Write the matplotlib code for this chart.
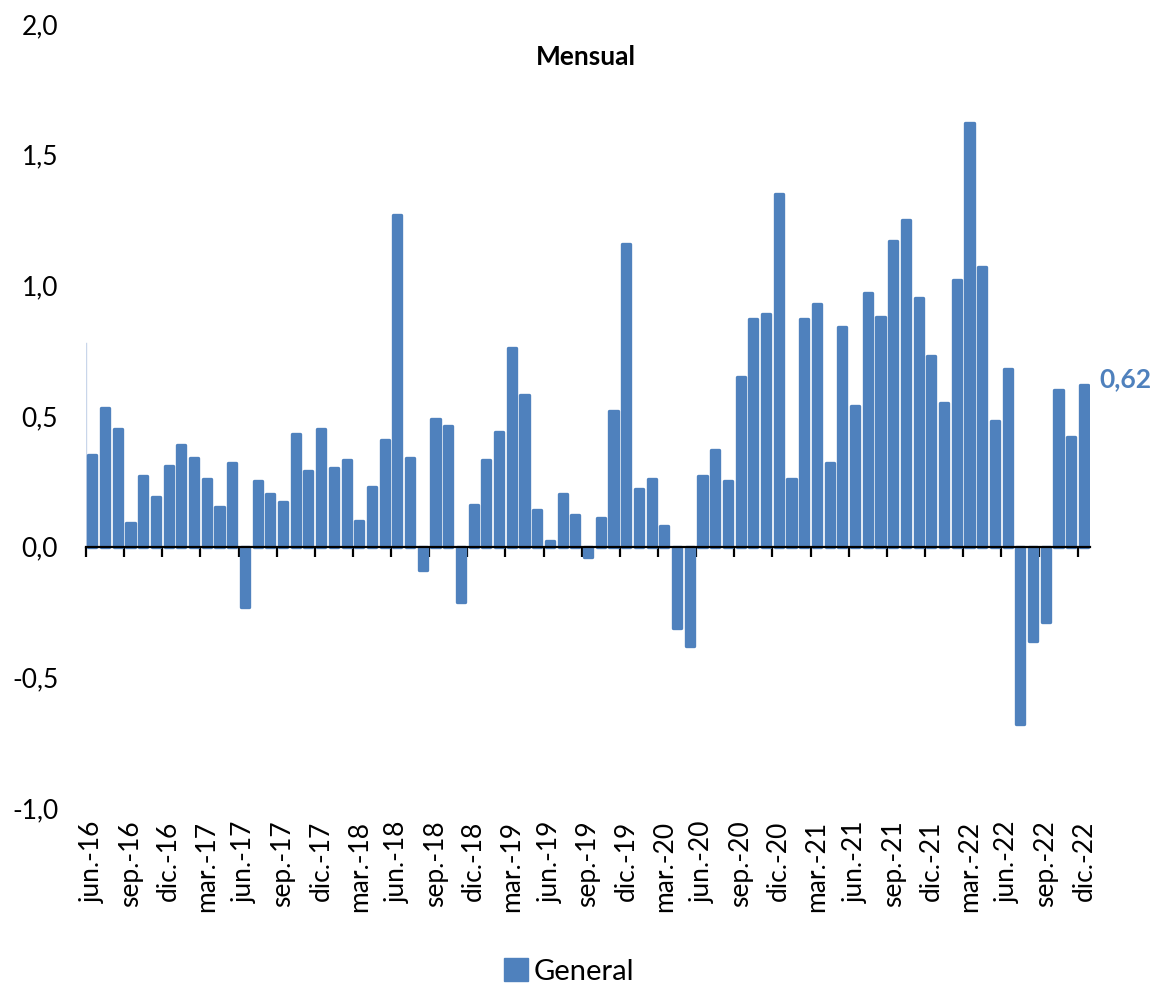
import numpy as np
from matplotlib import pyplot as plt
from matplotlib.patches import Patch

plt.rcParams['font.family'] = ['Lato', 'DejaVu Sans']

# monthly rate, jun-16 .. dic-22
months = ['jun.-16', 'jul.-16', 'ago.-16', 'sep.-16', 'oct.-16', 'nov.-16', 'dic.-16',
          'ene.-17', 'feb.-17', 'mar.-17', 'abr.-17', 'may.-17', 'jun.-17', 'jul.-17',
          'ago.-17', 'sep.-17', 'oct.-17', 'nov.-17', 'dic.-17', 'ene.-18', 'feb.-18',
          'mar.-18', 'abr.-18', 'may.-18', 'jun.-18', 'jul.-18', 'ago.-18', 'sep.-18',
          'oct.-18', 'nov.-18', 'dic.-18', 'ene.-19', 'feb.-19', 'mar.-19', 'abr.-19',
          'may.-19', 'jun.-19', 'jul.-19', 'ago.-19', 'sep.-19', 'oct.-19', 'nov.-19',
          'dic.-19', 'ene.-20', 'feb.-20', 'mar.-20', 'abr.-20', 'may.-20', 'jun.-20',
          'jul.-20', 'ago.-20', 'sep.-20', 'oct.-20', 'nov.-20', 'dic.-20', 'ene.-21',
          'feb.-21', 'mar.-21', 'abr.-21', 'may.-21', 'jun.-21', 'jul.-21', 'ago.-21',
          'sep.-21', 'oct.-21', 'nov.-21', 'dic.-21', 'ene.-22', 'feb.-22', 'mar.-22',
          'abr.-22', 'may.-22', 'jun.-22', 'jul.-22', 'ago.-22', 'sep.-22', 'oct.-22',
          'nov.-22', 'dic.-22']

general = [0.35, 0.53, 0.45, 0.09, 0.27, 0.19, 0.31,
           0.39, 0.34, 0.26, 0.15, 0.32, -0.23, 0.25,
           0.20, 0.17, 0.43, 0.29, 0.45, 0.30, 0.33,
           0.10, 0.23, 0.41, 1.27, 0.34, -0.09, 0.49,
           0.46, -0.21, 0.16, 0.33, 0.44, 0.76, 0.58,
           0.14, 0.02, 0.20, 0.12, -0.04, 0.11, 0.52,
           1.16, 0.22, 0.26, 0.08, -0.31, -0.38, 0.27,
           0.37, 0.25, 0.65, 0.87, 0.89, 1.35, 0.26,
           0.87, 0.93, 0.32, 0.84, 0.54, 0.97, 0.88,
           1.17, 1.25, 0.95, 0.73, 0.55, 1.02, 1.62,
           1.07, 0.48, 0.68, -0.68, -0.36, -0.29, 0.60,
           0.42, 0.62]

blue = '#4F81BD'

fig = plt.figure(figsize=(11.57, 9.91), dpi=100)
ax = fig.add_axes([0.0743, 0.1847, 0.868, 0.791])

x = np.arange(len(general))
ax.bar(x, general, width=0.64, color=blue, edgecolor=blue,
       linewidth=2.4, joinstyle='round', zorder=2)

ax.set_xlim(-0.5, len(general) - 0.5)
ax.set_ylim(-1.0, 2.0)

# y axis
yticks = np.arange(-1.0, 2.01, 0.5)
ax.set_yticks(yticks)
ax.set_yticklabels(['{:.1f}'.format(v).replace('.', ',') for v in yticks])
ax.tick_params(axis='y', length=0, pad=20, labelsize=19)
for s in ['left', 'right', 'top']:
    ax.spines[s].set_visible(False)

# faint vertical line at left edge
ax.plot([-0.5, -0.5], [0, 0.78], color='#c9d6ea', lw=1, zorder=1)

# x axis line through zero with ticks between groups of three months
ax.spines['bottom'].set_position(('data', 0))
ax.spines['bottom'].set_linewidth(1.6)
ax.spines['bottom'].set_zorder(3)
ax.set_xticks(np.arange(-0.5, len(general) - 1, 3))
ax.set_xticklabels([])
ax.tick_params(axis='x', direction='out', length=7, width=1.6)

trans = ax.get_xaxis_transform()
for i in range(0, len(months), 3):
    ax.text(i, -0.016, months[i], rotation=90, ha='center', va='top',
            fontsize=19, transform=trans)

# last value
ax.annotate('0,62', xy=(x[-1], general[-1]), xytext=(11, 4),
            textcoords='offset points', ha='left', va='center',
            color=blue, fontsize=19, fontweight='bold')

fig.text(0.506, 0.942, 'Mensual', ha='center', va='center',
         fontsize=19, fontweight='bold')

fig.legend(handles=[Patch(facecolor=blue, edgecolor=blue, label='General')],
           loc='lower center', bbox_to_anchor=(0.492, -0.02), frameon=False,
           fontsize=21, handlelength=0.8, handleheight=0.8, handletextpad=0.2)

fig.savefig('out.png', dpi=100)
